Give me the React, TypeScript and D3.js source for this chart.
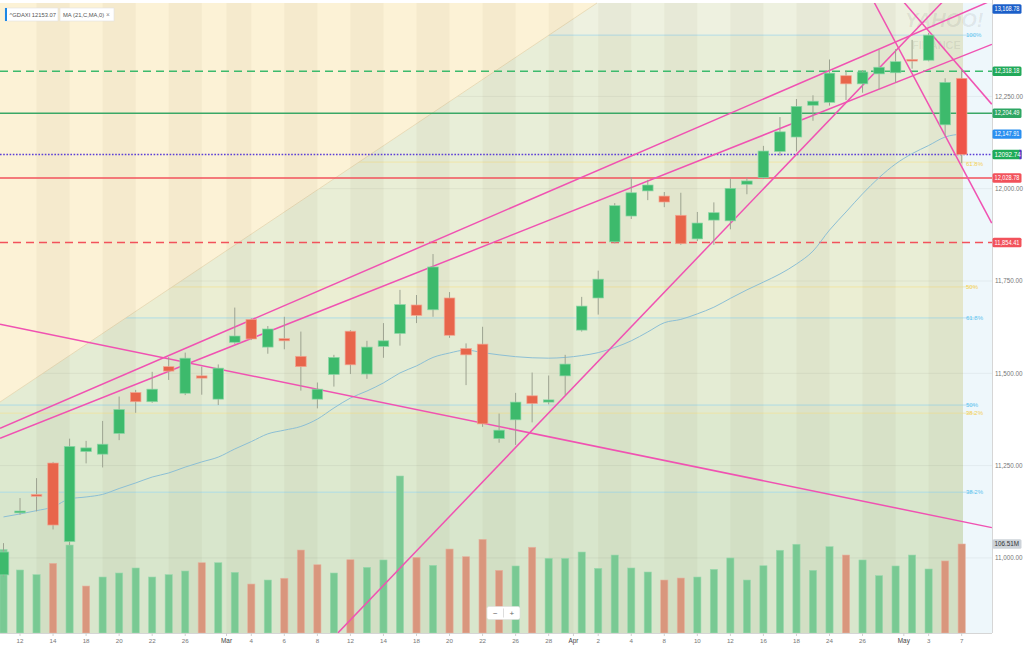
import React, { useEffect } from 'react';
import * as d3 from 'd3';

const dates = [
  '2019-02-11','2019-02-12','2019-02-13','2019-02-14','2019-02-15',
  '2019-02-18','2019-02-19','2019-02-20','2019-02-21','2019-02-22',
  '2019-02-25','2019-02-26','2019-02-27','2019-02-28','2019-03-01',
  '2019-03-04','2019-03-05','2019-03-06','2019-03-07','2019-03-08',
  '2019-03-11','2019-03-12','2019-03-13','2019-03-14','2019-03-15',
  '2019-03-18','2019-03-19','2019-03-20','2019-03-21','2019-03-22',
  '2019-03-25','2019-03-26','2019-03-27','2019-03-28','2019-03-29',
  '2019-04-01','2019-04-02','2019-04-03','2019-04-04','2019-04-05',
  '2019-04-08','2019-04-09','2019-04-10','2019-04-11','2019-04-12',
  '2019-04-15','2019-04-16','2019-04-17','2019-04-18','2019-04-23',
  '2019-04-24','2019-04-25','2019-04-26','2019-04-29','2019-04-30',
  '2019-05-02','2019-05-03','2019-05-06','2019-05-07'];

const opens = [10954,11122,11172,11257,11044,11288,11281,11337,11448,11423,
  11518,11446,11493,11430,11584,11646,11571,11594,11546,11430,
  11497,11614,11498,11573,11608,11685,11672,11704,11567,11579,
  11323,11374,11439,11422,11493,11617,11704,11856,11926,11994,
  11980,11928,11864,11915,11913,12012,12030,12101,12140,12226,
  12234,12306,12284,12311,12314,12350,12348,12173,12299];
const highs = [11040,11162,11216,11260,11323,11317,11371,11437,11455,11504,
  11544,11556,11518,11524,11678,11649,11628,11653,11613,11475,
  11550,11617,11588,11636,11726,11712,11823,11720,11581,11626,
  11391,11447,11502,11494,11550,11707,11778,11961,12031,12024,
  11991,11989,11937,11963,12028,12030,12116,12194,12243,12253,
  12350,12320,12321,12376,12378,12403,12422,12299,12322];
const lows = [10950,11117,11126,11077,11035,11256,11245,11319,11393,11420,
  11482,11441,11442,11414,11580,11590,11553,11565,11453,11405,
  11464,11498,11485,11542,11575,11636,11653,11596,11468,11355,
  11312,11306,11367,11416,11441,11613,11659,11852,11918,11969,
  11950,11848,11858,11848,11890,11985,12026,12089,12101,12184,
  12225,12240,12260,12269,12287,12325,12345,12145,12069];
const closes = [11016,11127,11167,11089,11302,11298,11308,11402,11423,11457,
  11506,11541,11487,11514,11601,11593,11620,11588,11518,11457,
  11543,11523,11571,11588,11686,11657,11788,11603,11550,11363,
  11346,11422,11418,11428,11525,11682,11755,11954,11989,12010,
  11964,11851,11907,11935,12001,12021,12102,12154,12223,12237,
  12313,12284,12316,12329,12344,12347,12416,12288,12092.74];
const volumesM = [100,75.4,69.8,83.4,105.3,56.2,67.0,71.8,77.8,67.0,
  69.8,74.2,84.1,84.1,72.6,58.6,63.4,65.5,99.3,81.7,
  71.8,87.7,78.6,87.4,187.9,90.6,81.0,100.5,91.3,112.1,
  75.0,80.2,102.6,89.4,89.4,96.9,77.4,93.3,77.8,73.0,
  63.4,65.8,67.0,76.2,89.8,63.4,80.5,99.0,106.2,75.0,
  103.3,93.3,87.4,68.6,80.2,93.3,76.6,86.2,106.51];
const ma21 = [11111,11119,11128,11138,11160,11165,11172,11188,11203,11219,
  11230,11246,11260,11273,11295,11315,11336,11346,11356,11376,
  11406,11433,11452,11474,11501,11520,11543,11555,11563,11556,
  11550,11545,11542,11541,11543,11548,11556,11570,11588,11612,
  11637,11646,11661,11679,11703,11726,11747,11769,11796,11831,
  11888,11937,11986,12030,12067,12095,12117,12140,12147.91];

const dayTicks = ['2019-02-12','2019-02-14','2019-02-18','2019-02-20','2019-02-22','2019-02-26',
  '2019-03-04','2019-03-06','2019-03-08','2019-03-12','2019-03-14','2019-03-18','2019-03-20',
  '2019-03-22','2019-03-26','2019-03-28','2019-04-02','2019-04-04','2019-04-08','2019-04-10',
  '2019-04-12','2019-04-16','2019-04-18','2019-04-24','2019-04-26','2019-05-03','2019-05-07'];
const monthTicks: [string, string][] = [['2019-03-01','Mar'],['2019-04-01','Apr'],['2019-05-02','May']];

const priceTicks = [11000, 11250, 11500, 11750, 12000, 12250];

// trend lines in [day index, price]
const trendLines: [number, number][][] = [
  [[-0.21, 11633], [59.83, 11082]],
  [[-0.21, 11351], [59.83, 12510]],
  [[-0.21, 11324], [59.83, 12391]],
  [[20.25, 10797], [56.95, 12511]],
  [[52.63, 12511], [59.82, 11907]],
  [[54.39, 12511], [59.82, 12229]],
];

const levelPrices = [12318.18, 12204.49, 12092.74, 12028.78, 11854.41];
const levelKinds = ['greenDash', 'green', 'purpleDot', 'red', 'redDash'];

const fibBlue: [string, number][] = [['100%', 12416], ['61.8%', 11650], ['50%', 11414], ['38.2%', 11178]];
const fibYellow: [string, number][] = [['61.8%', 12072], ['50%', 11734], ['38.2%', 11392]];

const bandTops = [13500, 12416, 12072, 11734, 11650, 11414, 11392, 11178];
const bandColors = ['#eef1e0', '#e8eed8', '#e9eed6', '#ebeed3', '#e4ecd4', '#e1ead1', '#dde9cf', '#d8e6cc'];

const stripeBounds = [-0.21, 2, 4, 6, 8, 10, 12, 13.5, 15, 17, 19, 21, 23, 25, 27, 29, 31, 33, 34.5,
  36, 38, 40, 42, 44, 46, 48, 50, 52, 54, 56, 58.08];

const lastMA = 12147.91;
const topFib = 13168.78;
const lastVolume = 106.51;

export default function App() {
  useEffect(() => { document.body.style.margin = '0'; }, []);

  const x = d3.scaleLinear().domain([0, 58]).range([3.5, 961.66]);
  const y = d3.scaleLinear().domain([11000, 12250]).range([557.9, 96.4]);
  const yv = d3.scaleLinear().domain([0, lastVolume]).range([633, 544]);
  const idx = (d: string) => dates.indexOf(d);
  const fmt = d3.format(',.2f');
  const plotR = 992, plotB = 633, plotT = 3, tintR = 963;

  const maLine = d3.line<number>().x((_, i) => x(i)).y(d => y(d)).curve(d3.curveMonotoneX)(ma21) || '';

  const green = '#3dba6c', red = '#e8654b';
  const vGreen = '#79c993', vRed = '#d9967d';
  const font = "'Liberation Sans', Arial, sans-serif";

  const levelStyle: Record<string, { c: string; dash?: string; w: number; bg: string }> = {
    greenDash: { c: '#3cba6d', dash: '8,5', w: 1.6, bg: '#22a95a' },
    green: { c: '#3aa866', w: 1.6, bg: '#2da663' },
    purpleDot: { c: '#5b3ed6', dash: '1.6,1.6', w: 1.6, bg: '#1eab58' },
    red: { c: '#f2525b', w: 1.6, bg: '#f2525b' },
    redDash: { c: '#f2525b', dash: '8,5', w: 1.6, bg: '#f2525b' },
  };

  const badge = (yy: number, text: string, bg: string, fg = '#fff', key?: string, extra?: React.ReactNode) => (
    <g key={key || text}>
      <rect x={992.5} y={yy - 4.7} width={29} height={9.4} rx={1.5} fill={bg} />
      {extra}
      <text x={994.5} y={yy} dy="0.35em" fontSize={6.3} fill={fg} fontFamily={font}
        textLength={text.length > 8 ? 25 : undefined} lengthAdjust="spacingAndGlyphs">{text}</text>
    </g>
  );

  return (
    <svg width={1024} height={649} style={{ display: 'block', position: 'absolute', left: 0, top: 0 }} fontFamily={font}>
      <defs>
        <clipPath id="plot"><rect x={0} y={plotT} width={plotR} height={plotB - plotT} /></clipPath>
        <clipPath id="tint"><rect x={0} y={plotT} width={tintR} height={plotB - plotT} /></clipPath>
      </defs>
      <rect x={0} y={0} width={1024} height={649} fill="#ffffff" />
      {/* plot background */}
      <rect x={tintR} y={plotT} width={plotR - tintR} height={plotB - plotT} fill="#eef7fb" />
      <g clipPath="url(#tint)">
        {bandTops.map((p, i) => {
          const y0 = Math.max(plotT, y(p));
          const y1 = i < bandTops.length - 1 ? y(bandTops[i + 1]) : plotB;
          return <rect key={'b' + i} x={0} y={y0} width={tintR} height={Math.max(0, y1 - y0)} fill={bandColors[i]} />;
        })}
      </g>
      <g clipPath="url(#plot)">
        {priceTicks.map(p => (
          <line key={'g' + p} x1={0} x2={plotR} y1={y(p)} y2={y(p)} stroke="#000" strokeOpacity={0.05} />
        ))}
        {fibBlue.map(([l, p]) => (
          <line key={'fb' + l} x1={0} x2={975} y1={y(p)} y2={y(p)} stroke="#8fd3ee" strokeOpacity={0.7} strokeWidth={0.9} />
        ))}
        {fibYellow.map(([l, p]) => (
          <line key={'fy' + l} x1={0} x2={975} y1={y(p)} y2={y(p)} stroke="#f3df8a" strokeOpacity={0.7} strokeWidth={0.9} />
        ))}
      </g>
      {/* beige triangle */}
      <path d={`M0,${plotT} L597,${plotT} L0,402 Z`} fill="#fcf2d6" />
      <line x1={0} y1={402} x2={597} y2={plotT} stroke="#e6d6b0" strokeWidth={0.8} />
      {/* stripes */}
      <g clipPath="url(#tint)">
        {stripeBounds.slice(0, -1).map((b, i) => i % 2 === 1 ? (
          <rect key={'s' + i} x={x(b)} y={plotT} width={x(stripeBounds[i + 1]) - x(b)} height={plotB - plotT}
            fill="#5a5020" fillOpacity={0.045} />
        ) : null)}
      </g>
      {/* watermark */}
      <text x={905} y={26.5} fontSize={20} fill="#000" fillOpacity={0.07} fontFamily={font} fontWeight="bold" fontStyle="italic">YAHOO!</text>
      <text x={912} y={49} fontSize={11} fill="#000" fillOpacity={0.07} fontFamily={font} fontWeight="bold">FINANCE</text>
      {/* fib labels */}
      {fibBlue.map(([l, p]) => (
        <text key={'fbl' + l} x={966} y={y(p)} dy="0.35em" fontSize={6} fill="#5cc3ef">{l}</text>
      ))}
      {fibYellow.map(([l, p]) => (
        <text key={'fyl' + l} x={966} y={y(p) + (l === '61.8%' ? 2 : 0)} dy="0.35em" fontSize={6} fill="#f4cf52">{l}</text>
      ))}
      {/* horizontal levels */}
      {levelPrices.map((p, i) => {
        const s = levelStyle[levelKinds[i]];
        return <line key={'lv' + i} x1={0} x2={plotR} y1={y(p)} y2={y(p)} stroke={s.c} strokeWidth={s.w} strokeDasharray={s.dash} />;
      })}
      {/* volume */}
      <g clipPath="url(#plot)">
        {volumesM.map((v, i) => {
          const up = i === 0 ? closes[i] >= opens[i] : closes[i] >= closes[i - 1];
          return <rect key={'v' + i} x={x(i) - 3.6} y={yv(v)} width={7.2} height={plotB - yv(v)}
            fill={up ? vGreen : vRed} stroke={up ? '#9bd9ae' : '#e6b3a0'} strokeWidth={0.6} />;
        })}
      </g>
      <g clipPath="url(#plot)">
        <path d={maLine} fill="none" stroke="#8cbfd5" strokeWidth={1} />
        {trendLines.map((l, i) => (
          <line key={'t' + i} x1={x(l[0][0])} y1={y(l[0][1])} x2={x(l[1][0])} y2={y(l[1][1])}
            stroke="#f052b2" strokeWidth={1.5} />
        ))}
      </g>
      {/* candles */}
      <g clipPath="url(#plot)">
        {dates.map((d, i) => {
          const up = closes[i] >= opens[i];
          const yt = y(Math.max(opens[i], closes[i]));
          const yb = y(Math.min(opens[i], closes[i]));
          const fill = up ? green : (i === 58 ? '#ef5449' : red);
          return (
            <g key={'c' + i}>
              <line x1={x(i)} x2={x(i)} y1={y(highs[i])} y2={y(lows[i])} stroke="#9da391" strokeWidth={1} />
              <rect x={x(i) - 5.3} y={yt} width={10.6} height={Math.max(1.6, yb - yt)} fill={fill}
                stroke={up ? '#8cd6a6' : '#f2a592'} strokeWidth={0.7} />
            </g>
          );
        })}
      </g>
      {/* axes */}
      <line x1={plotR + 0.5} x2={plotR + 0.5} y1={0} y2={plotB} stroke="#d6d6d6" />
      <line x1={0} x2={plotR} y1={plotB + 0.5} y2={plotB + 0.5} stroke="#d6d6d6" />
      {priceTicks.map(p => (
        <text key={'pt' + p} x={995} y={y(p)} dy="0.35em" fontSize={6.3} fill="#777">{fmt(p)}</text>
      ))}
      {dayTicks.map(d => {
        const i = idx(d);
        return (
          <g key={'dt' + d}>
            <line x1={x(i)} x2={x(i)} y1={plotB} y2={plotB + 3} stroke="#d0d0d0" />
            <text x={x(i)} y={641} dy="0.35em" textAnchor="middle" fontSize={6.2} fill="#777">{String(+d.slice(8))}</text>
          </g>
        );
      })}
      {monthTicks.map(([d, l]) => {
        const xm = x(idx(d) - 0.5);
        return (
          <g key={'mt' + l}>
            <line x1={xm} x2={xm} y1={plotB} y2={plotB + 3} stroke="#d0d0d0" />
            <text x={xm} y={641} dy="0.35em" textAnchor="middle" fontSize={6.4} fill="#444">{l}</text>
          </g>
        );
      })}
      {/* badges */}
      {badge(9, fmt(topFib), '#1b5fc9')}
      {levelPrices.map((p, i) => {
        const s = levelStyle[levelKinds[i]];
        const label = levelKinds[i] === 'purpleDot' ? p.toFixed(2) : fmt(p);
        const extra = levelKinds[i] === 'purpleDot'
          ? <rect x={1019.5} y={y(p) - 4.7} width={2} height={9.4} fill="#5a2fd0" /> : undefined;
        return badge(y(p), label, s.bg, '#fff', 'lb' + i, extra);
      })}
      {badge(y(lastMA), fmt(lastMA), '#2a8ff0')}
      {badge(yv(lastVolume), lastVolume.toFixed(2) + 'M', '#cdd3d9', '#333')}
      {/* legend */}
      <g>
        <rect x={5} y={8} width={53} height={13} fill="#fff" stroke="#e2e2e2" strokeWidth={0.6} />
        <rect x={5} y={8} width={2} height={13} fill="#1e88e5" />
        <text x={9.5} y={14.5} dy="0.35em" fontSize={5.8} fill="#555">^GDAXI 12153.07</text>
        <rect x={60} y={8} width={54} height={13} fill="#fff" stroke="#e2e2e2" strokeWidth={0.6} />
        <text x={63} y={14.5} dy="0.35em" fontSize={5.8} fill="#555">MA (21,C,MA,0)</text>
        <text x={106} y={14.5} dy="0.35em" fontSize={6.5} fill="#888">×</text>
      </g>
      {/* zoom control */}
      <g>
        <rect x={487} y={606.5} width={33} height={13} rx={2} fill="#fff" stroke="#dddddd" strokeWidth={0.6} />
        <line x1={503.5} x2={503.5} y1={608.5} y2={617.5} stroke="#ddd" />
        <text x={495.3} y={613} dy="0.35em" textAnchor="middle" fontSize={8} fill="#666">−</text>
        <text x={511.8} y={613} dy="0.35em" textAnchor="middle" fontSize={8} fill="#666">+</text>
      </g>
    </svg>
  );
}
